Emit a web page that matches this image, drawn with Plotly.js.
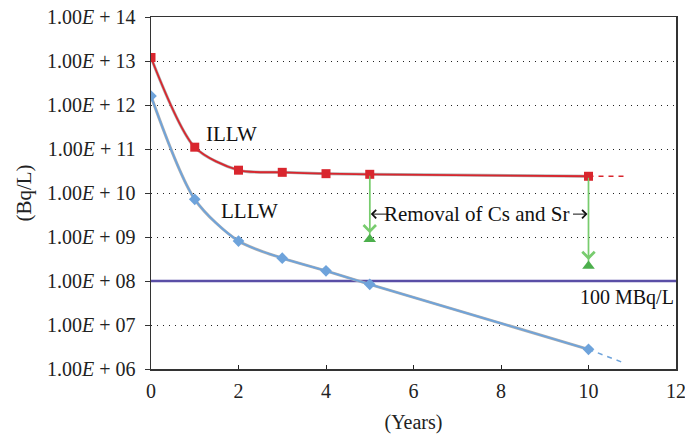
<!DOCTYPE html>
<html>
<head>
<meta charset="utf-8">
<script src="https://cdn.plot.ly/plotly-3.0.1.min.js"></script>
<style>
  html, body { margin: 0; padding: 0; background: #fff; }
  #chart { width: 685px; height: 436px; }
</style>
</head>
<body>
<div id="chart"></div>
<script>
// ---- data ----
const years = [0, 1, 2, 3, 4, 5, 10];
const illw = [1.2e13, 1.1e11, 3.3e10, 2.95e10, 2.75e10, 2.66e10, 2.4e10];
const lllw = [1.6e12, 7.2e9, 8.1e8, 3.3e8, 1.7e8, 8.4e7, 2.8e6];
const illwExtX = [10, 10.8];
const illwExtY = [2.4e10, 2.4e10];
const lllwExtX = [10, 10.75];
const lllwExtY = [2.8e6, 1.45e6];
const removalYears = [5, 10];
const removalFrom = [2.66e10, 2.4e10];
const removalTo = [8.9e8, 2.2e8];
const limitX = [0, 12];
const limitY = [1e8, 1e8];
const yTickVals = [1e6, 1e7, 1e8, 1e9, 1e10, 1e11, 1e12, 1e13, 1e14];
const yTickText = ["06", "07", "08", "09", "10", "11", "12", "13", "14"].map(e => "1.00<i>E</i> + " + e);
const xTickVals = [0, 2, 4, 6, 8, 10, 12];

const serif = "Liberation Serif, Times New Roman, serif";
const red = "#d9262e", blue = "#6ea3db", green = "#78cc6e", greenMk = "#4caf4c", purple = "#5a4ea6";
const shadow = "#b0b0b0";

const traces = [];
// limit line
traces.push({x: limitX, y: limitY, mode: "lines", line: {color: purple, width: 2.5}, hoverinfo: "skip"});
// green vertical removal lines
removalYears.forEach((yr, i) => {
  traces.push({x: [yr, yr], y: [removalFrom[i], removalTo[i]], mode: "lines",
    line: {color: green, width: 1.6}, hoverinfo: "skip"});
});
// shadows
traces.push({x: years, y: illw, mode: "lines", line: {color: shadow, width: 3, shape: "spline", smoothing: 0.8}, hoverinfo: "skip"});
traces.push({x: years, y: lllw, mode: "lines", line: {color: shadow, width: 3, shape: "spline", smoothing: 0.8}, hoverinfo: "skip"});
// dashed extensions
traces.push({x: illwExtX, y: illwExtY, mode: "lines", line: {color: red, width: 1.5, dash: "5px,5px"}, hoverinfo: "skip"});
traces.push({x: lllwExtX, y: lllwExtY, mode: "lines", line: {color: blue, width: 1.5, dash: "5px,5px"}, hoverinfo: "skip"});
// main series
traces.push({x: years, y: illw, mode: "lines+markers", name: "ILLW",
  line: {color: red, width: 1.8, shape: "spline", smoothing: 0.8},
  marker: {symbol: "square", size: 9, color: red}});
traces.push({x: years, y: lllw, mode: "lines+markers", name: "LLLW",
  line: {color: blue, width: 1.8, shape: "spline", smoothing: 0.8},
  marker: {symbol: "diamond", size: 9, color: blue}});
// triangles
traces.push({x: removalYears, y: removalTo, mode: "markers",
  marker: {symbol: "triangle-up", size: 11, color: greenMk}});

const annotations = [];
// green arrowheads
removalYears.forEach((yr, i) => {
  annotations.push({x: yr, y: Math.log10(removalTo[i]), xref: "x", yref: "y",
    ax: yr, ay: Math.log10(removalFrom[i]), axref: "x", ayref: "y",
    text: "", showarrow: true, arrowhead: 4, arrowsize: 2, arrowwidth: 1.2,
    arrowcolor: green, standoff: 6});
});
// black pointer arrows
const labelY = 9.52;
annotations.push({x: 5, y: labelY, xref: "x", yref: "y", ax: 19, ay: 0, text: "", showarrow: true,
  arrowhead: 4, arrowsize: 1.6, arrowwidth: 1, arrowcolor: "#111", standoff: 1});
annotations.push({x: 10, y: labelY, xref: "x", yref: "y", ax: -17, ay: 0, text: "", showarrow: true,
  arrowhead: 4, arrowsize: 1.6, arrowwidth: 1, arrowcolor: "#111", standoff: 1});
annotations.push({x: 7.45, y: labelY, xref: "x", yref: "y", text: "Removal of Cs and Sr", showarrow: false,
  font: {family: serif, size: 21, color: "#111"}});
annotations.push({x: 1.22, y: Math.log10(1.1e11) + 0.3, xref: "x", yref: "y", text: "ILLW", showarrow: false,
  xanchor: "left", font: {family: serif, size: 21, color: "#111"}});
annotations.push({x: 1.55, y: 9.58, xref: "x", yref: "y", text: "LLLW", showarrow: false,
  xanchor: "left", font: {family: serif, size: 21, color: "#111"}});
annotations.push({x: 12, y: 7.62, xref: "x", yref: "y", text: "100 MBq/L", showarrow: false,
  xanchor: "right", xshift: 0, font: {family: serif, size: 20, color: "#111"}});

const layout = {
  width: 685, height: 436,
  margin: {l: 151, r: 9, t: 17, b: 67, pad: 0},
  paper_bgcolor: "#fff", plot_bgcolor: "#fff",
  showlegend: false,
  font: {family: serif, size: 20, color: "#222"},
  xaxis: {
    range: [0, 12], tickvals: xTickVals, ticks: "inside", ticklen: 4, tickcolor: "#222",
    showline: true, linecolor: "#333", linewidth: 1.5, mirror: true, showgrid: false, zeroline: false,
    tickfont: {family: serif, size: 20, color: "#222"}, ticklabelstandoff: 3,
    ticklabeloverflow: "allow",
    title: {text: "(Years)", font: {family: serif, size: 20, color: "#222"}, standoff: 14}
  },
  yaxis: {
    type: "log", range: [6, 14], tickvals: yTickVals, ticktext: yTickText,
    ticks: "outside", ticklen: 5, tickcolor: "#333", ticklabelstandoff: 5,
    showline: true, linecolor: "#333", linewidth: 1.5, mirror: true,
    showgrid: true, gridcolor: "#222", gridwidth: 1, griddash: "1px,5px", zeroline: false,
    tickfont: {family: serif, size: 20, color: "#222"},
    title: {text: "(Bq/L)", font: {family: serif, size: 21, color: "#222"}, standoff: 9}
  },
  annotations: annotations
};

Plotly.newPlot("chart", traces, layout, {staticPlot: true, displayModeBar: false});
</script>
</body>
</html>
